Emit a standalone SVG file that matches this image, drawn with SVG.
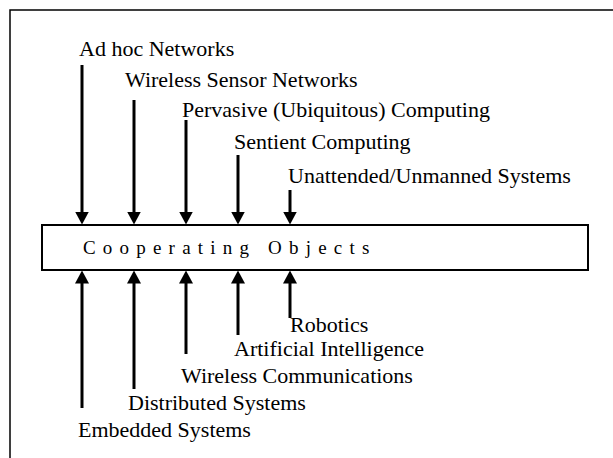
<svg xmlns="http://www.w3.org/2000/svg" width="613" height="458" viewBox="0 0 613 458">
<style>
.lbl{font-family:'Liberation Serif','Times New Roman',serif;font-size:22px;fill:#000}
.co{font-family:'Liberation Serif','Times New Roman',serif;font-size:19px;letter-spacing:7.2px;fill:#000}
.ar{stroke:#000;stroke-width:3;fill:none;marker-end:url(#ah)}
</style>
<defs>
<marker id="ah" markerUnits="userSpaceOnUse" markerWidth="13" markerHeight="14" viewBox="0 0 13 14" refX="0.5" refY="7" orient="auto">
<path d="M0,0 L13,7 L0,14 z" fill="#000"/>
</marker>
</defs>
<rect width="613" height="458" fill="#fff"/>
<g id="frame" stroke="#000" stroke-width="1.5" fill="none">
<path d="M10,458 L10,10 L613,10"/>
</g>
<g id="cooperating-objects">
<rect x="42" y="225" width="546" height="45" fill="#fff" stroke="#000" stroke-width="2"/>
<text class="co" font-family="Liberation Serif, serif" x="83" y="254">Cooperating Objects</text>
</g>
<g font-family="Liberation Serif, serif">
<g id="ad-hoc"><text class="lbl" x="79" y="56">Ad hoc Networks</text></g>
<g id="wsn"><text class="lbl" x="125" y="87">Wireless Sensor Networks</text></g>
<g id="pervasive"><text class="lbl" x="182" y="117">Pervasive (Ubiquitous) Computing</text></g>
<g id="sentient"><text class="lbl" x="234" y="149">Sentient Computing</text></g>
<g id="unattended"><text class="lbl" x="288" y="183">Unattended/Unmanned Systems</text></g>
<g id="robotics"><text class="lbl" x="290" y="332">Robotics</text></g>
<g id="ai"><text class="lbl" x="234" y="356">Artificial Intelligence</text></g>
<g id="wireless-comm"><text class="lbl" x="181" y="383">Wireless Communications</text></g>
<g id="distributed"><text class="lbl" x="128" y="410">Distributed Systems</text></g>
<g id="embedded"><text class="lbl" x="78" y="437">Embedded Systems</text></g>
</g>
<g id="connectors">
<path class="ar" d="M82,65 L82,212"/>
<path class="ar" d="M134,100 L134,212"/>
<path class="ar" d="M186,120 L186,212"/>
<path class="ar" d="M238,155 L238,212"/>
<path class="ar" d="M290,190 L290,212"/>
<path class="ar" d="M82,408 L82,283"/>
<path class="ar" d="M134,389 L134,283"/>
<path class="ar" d="M186,354 L186,283"/>
<path class="ar" d="M238,335 L238,283"/>
<path class="ar" d="M290,318 L290,283"/>
</g>
</svg>
